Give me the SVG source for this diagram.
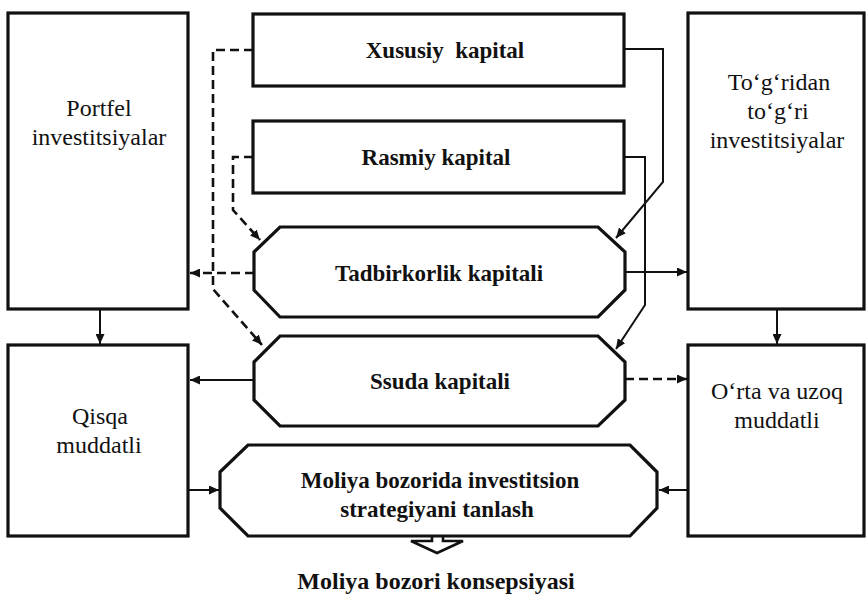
<svg xmlns="http://www.w3.org/2000/svg" width="866" height="598" viewBox="0 0 866 598">
<style>
.box{fill:#fff;stroke:#111;stroke-width:3.2}
.ln{fill:none;stroke:#111;stroke-width:2}
.ds{fill:none;stroke:#111;stroke-width:2.6;stroke-dasharray:9 5}
.t{font-size:24px;fill:#111;text-anchor:middle}
.b{font-size:23px;font-weight:bold;fill:#111;text-anchor:middle}
</style>
<defs>
<marker id="ah" markerUnits="userSpaceOnUse" markerWidth="11" markerHeight="9" refX="10" refY="4.5" orient="auto">
<path d="M0,0 L10,4.5 L0,9 z" fill="#111"/>
</marker>
</defs>
<rect width="866" height="598" fill="#fff"/>

<g id="connectors">
<path class="ds" d="M253,50 H213 V289 L262,345" marker-end="url(#ah)"/>
<path class="ds" d="M253,157 H233 V210 L260,240" marker-end="url(#ah)"/>
<path class="ds" d="M254,273 H190" marker-end="url(#ah)"/>
<path class="ln" d="M624,49 H663 V182 L616,238" marker-end="url(#ah)"/>
<path class="ln" d="M624,157 H645 V305 L616,349" marker-end="url(#ah)"/>
<path class="ln" d="M625,272 H687" marker-end="url(#ah)"/>
<path class="ln" d="M254,380 H190" marker-end="url(#ah)"/>
<path class="ds" d="M625,379 H687" marker-end="url(#ah)"/>
<path class="ln" d="M188,490 H219" marker-end="url(#ah)"/>
<path class="ln" d="M688,490 H659" marker-end="url(#ah)"/>
<path class="ln" d="M100,309 V344" marker-end="url(#ah)"/>
<path class="ln" d="M777,309 V344" marker-end="url(#ah)"/>
<path d="M432,537 V541 H411 L437,553 L463,541 H443 V537" fill="#fff" stroke="#111" stroke-width="2.6" stroke-linejoin="miter"/>
</g>

<g font-family="Liberation Serif, DejaVu Serif, serif">
<g id="portfel">
<rect class="box" x="8" y="13" width="180" height="296"/>
<text class="t" x="99" y="116">Portfel</text>
<text class="t" x="99" y="145">investitsiyalar</text>
</g>

<g id="togridan">
<rect class="box" x="688" y="13" width="176" height="296"/>
<text class="t" x="779" y="90">To‘g‘ridan</text>
<text class="t" x="778" y="119">to‘g‘ri</text>
<text class="t" x="777" y="148">investitsiyalar</text>
</g>

<g id="xususiy">
<rect class="box" x="253" y="14" width="371" height="72"/>
<text class="b" x="445" y="58" xml:space="preserve">Xususiy  kapital</text>
</g>

<g id="rasmiy">
<rect class="box" x="253" y="121" width="371" height="72"/>
<text class="b" x="436" y="165">Rasmiy kapital</text>
</g>

<g id="tadbirkorlik">
<polygon class="box" points="254,252 280,227 598,227 625,252 625,290 598,317 280,317 254,290"/>
<text class="b" x="439" y="281">Tadbirkorlik kapitali</text>
</g>

<g id="ssuda">
<polygon class="box" points="254,362 280,336 598,336 625,362 625,400 598,426 280,426 254,400"/>
<text class="b" x="440" y="389">Ssuda kapitali</text>
</g>

<g id="qisqa">
<rect class="box" x="8" y="345" width="180" height="191"/>
<text class="t" x="100" y="424">Qisqa</text>
<text class="t" x="99" y="453">muddatli</text>
</g>

<g id="orta">
<rect class="box" x="688" y="345" width="176" height="191"/>
<text class="t" x="777" y="399">O‘rta va uzoq</text>
<text class="t" x="777" y="428">muddatli</text>
</g>

<g id="moliya">
<polygon class="box" points="220,472 248,445 630,445 657,472 657,508 630,536 248,536 220,508"/>
<text class="b" x="440" y="488">Moliya bozorida investitsion</text>
<text class="b" x="437" y="517">strategiyani tanlash</text>
</g>

<g id="konsepsiya">
<text class="b" x="436" y="589" style="font-size:24px">Moliya bozori konsepsiyasi</text>
</g>
</g>
</svg>
